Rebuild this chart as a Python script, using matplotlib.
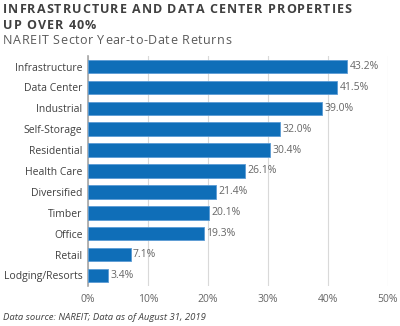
import matplotlib.pyplot as plt
from matplotlib.font_manager import FontProperties, findfont, get_font

# sector returns, year to date
sectors = ['Infrastructure', 'Data Center', 'Industrial', 'Self-Storage', 'Residential',
           'Health Care', 'Diversified', 'Timber', 'Office', 'Retail', 'Lodging/Resorts']
returns = [43.2, 41.5, 39.0, 32.0, 30.4, 26.1, 21.4, 20.1, 19.3, 7.1, 3.4]
ticks = [0, 10, 20, 30, 40, 50]

plt.rcParams['font.family'] = ['Open Sans', 'DejaVu Sans']
W, H, DPI = 400, 326, 100

fig = plt.figure(figsize=(W / DPI, H / DPI), dpi=DPI)
ax = fig.add_axes([0.22, 0.123, 0.75, 0.705])


def spaced_text(x_px, y_px, s, size, extra, weight='normal', color='k'):
    # draw a string one glyph at a time, adding letter spacing (pixels)
    fp = FontProperties(family='Open Sans', weight=weight, size=size)
    font = get_font(findfont(fp))
    font.set_size(size, DPI)
    for ch in s:
        fig.text(x_px / W, 1 - y_px / H, ch, fontproperties=fp, color=color,
                 ha='left', va='baseline')
        adv = font.load_char(ord(ch)).linearHoriAdvance / 65536
        x_px += adv + extra


y = list(range(len(sectors)))
ax.barh(y, returns, height=0.65, color='#0F6EB8', edgecolor='#5B9BD5', linewidth=0.6, zorder=3)
for yi, v in zip(y, returns):
    ax.text(v + 0.4, yi, f'{v:.1f}%', va='center', ha='left', fontsize=7.5, color='#666666')

ax.set_yticks(y)
ax.set_yticklabels(sectors, fontsize=7.5, color='#404040')
ax.set_ylim(len(sectors) - 0.5, -0.5)
ax.set_xlim(0, 50)
ax.set_xticks(ticks)
ax.set_xticklabels([f'{t}%' for t in ticks], fontsize=7.5, color='#666666')
ax.tick_params(length=0, pad=4)
ax.tick_params(axis='x', pad=6)
ax.grid(axis='x', color='#D9D9D9', linewidth=0.8, zorder=0)
for s in ['top', 'right', 'bottom']:
    ax.spines[s].set_visible(False)
ax.spines['left'].set_color('#A6A6A6')
ax.spines['left'].set_linewidth(1.2)

spaced_text(3, 13, 'INFRASTRUCTURE AND DATA CENTER PROPERTIES', 9, 1.05, 'bold', '#404040')
spaced_text(3, 29, 'UP OVER 40%', 9, 1.05, 'bold', '#404040')
spaced_text(3, 44, 'NAREIT Sector Year-to-Date Returns', 9, 0.6, 'normal', '#595959')
fig.text(3 / W, 1 - 320 / H, 'Data source: NAREIT; Data as of August 31, 2019', fontsize=6.8,
         style='italic', color='#404040', va='baseline', ha='left')

fig.savefig('out.png', dpi=DPI)
